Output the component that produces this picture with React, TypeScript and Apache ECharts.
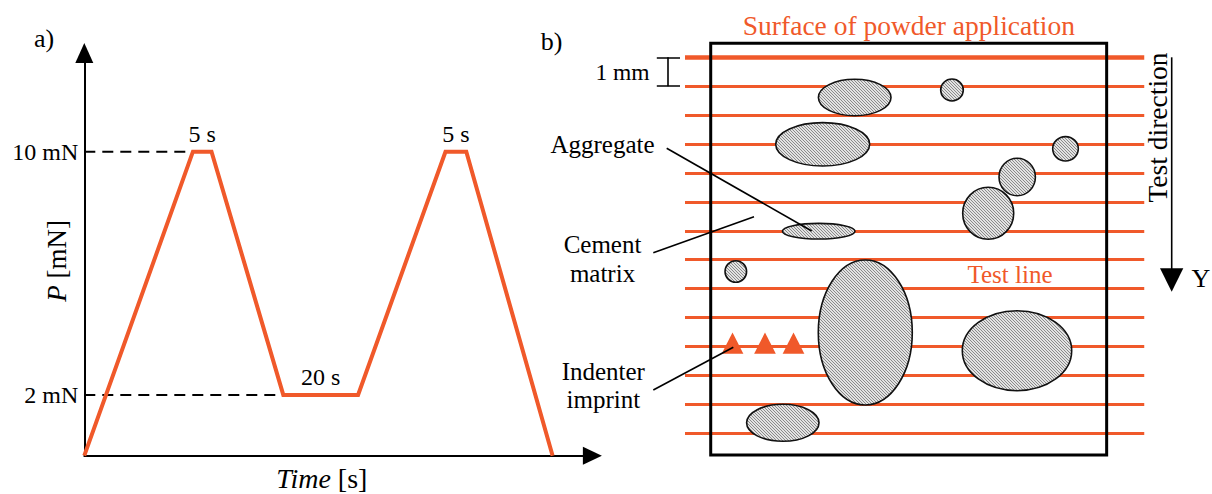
import React, { useEffect, useRef } from 'react';
import * as echarts from 'echarts';

const ORANGE = '#F0592A';
const FONT = '"Liberation Serif", "Times New Roman", serif';

// ---------- a) loading cycle ----------
const TIME_S = [0, 29.2, 34.2, 53.5, 73.6, 97.1, 102.7, 125.9];
const LOAD_MN = [0, 10, 10, 2, 2, 10, 10, 0];
const Y_TICKS = [2, 10];
const GUIDE_LEVELS = [10, 2];
const GUIDE_END_T = [29.2, 53.5];
const HOLD_T = [31.7, 63.55, 99.9];
const HOLD_P = [10, 2, 10];
const HOLD_LABELS = ['5 s', '20 s', '5 s'];

// ---------- b) specimen (units: mm) ----------
const TEST_LINE_Y = [0, 1, 2, 3, 4, 5, 6, 7, 8, 9, 10, 11, 12, 13];
const TEST_LINE_X = [0, 15.88];
const SPECIMEN = [0.889, -0.484, 14.58, 13.75];
// [cx, cy, rx, ry]
const AGGREGATES = [
  [5.868, 1.39, 1.255, 0.629],
  [4.761, 3.008, 1.625, 0.75],
  [4.623, 6.013, 1.255, 0.27],
  [9.232, 1.131, 0.391, 0.38],
  [13.157, 3.164, 0.443, 0.422],
  [11.487, 4.139, 0.629, 0.647],
  [10.484, 5.394, 0.882, 0.899],
  [1.757, 7.407, 0.373, 0.373],
  [6.234, 9.516, 1.625, 2.507],
  [11.48, 10.145, 1.891, 1.383],
  [3.382, 12.638, 1.252, 0.64],
];
const IMPRINT_X = [1.643, 2.766, 3.752];
const IMPRINT_LINE = 10;
const LEADERS = [
  [[-0.633, 3.147], [4.381, 6.005]],
  [[-1.096, 6.757], [2.386, 5.512]],
  [[-1.096, 11.504], [1.67, 10.028]],
];
const SCALE_BAR = [
  [[-0.605, 0], [-0.605, 1]],
  [[-0.975, 0], [-0.173, 0]],
  [[-0.975, 1], [-0.173, 1]],
];

function txt(text: string, x: number, y: number, size: number, align: string, color = '#000', rotation = 0) {
  return {
    type: 'text',
    x,
    y,
    rotation,
    style: {
      text,
      fontSize: size,
      fontFamily: FONT,
      fill: color,
      align,
      verticalAlign: 'middle',
    },
  };
}

export default function App() {
  const ref = useRef<HTMLDivElement>(null);

  useEffect(() => {
    if (!ref.current) return;
    const chart = echarts.init(ref.current, undefined, { renderer: 'svg' });

    const cv = document.createElement('canvas');
    cv.width = 3;
    cv.height = 3;
    const ctx = cv.getContext('2d');
    if (ctx) {
      ctx.fillStyle = '#e2e2e2';
      ctx.fillRect(0, 0, 3, 3);
      ctx.fillStyle = '#8a8a8a';
      for (let i = 0; i < 3; i++) ctx.fillRect(i, i, 1, 1);
    }
    const hatch: any = { image: cv, repeat: 'repeat' };

    const option: any = {
      animation: false,
      textStyle: { fontFamily: FONT },
      grid: [
        { left: 84.3, top: 52.9, width: 508.1, height: 402.8, outerBoundsMode: 'none', containLabel: false },
        { left: 627.16, top: 28.38, width: 578.4, height: 433.8, outerBoundsMode: 'none', containLabel: false },
      ],
      xAxis: [
        {
          type: 'value',
          gridIndex: 0,
          min: 0,
          max: 136.6,
          name: '{i|Time} [s]',
          nameLocation: 'middle',
          nameGap: 9,
          nameMoveOverlap: false,
          nameTextStyle: {
            fontFamily: FONT,
            fontSize: 28,
            color: '#000',
            padding: [0, 33, 0, 0],
            rich: { i: { fontFamily: FONT, fontSize: 28, fontStyle: 'italic', color: '#000' } },
          },
          axisLine: {
            show: true,
            symbol: ['none', 'triangle'],
            symbolSize: [18, 19],
            lineStyle: { color: '#000', width: 2 },
          },
          axisTick: { show: false },
          axisLabel: { show: false },
          splitLine: { show: false },
        },
        { type: 'value', gridIndex: 1, min: -2, max: 18, show: false, splitLine: { show: false } },
      ],
      yAxis: [
        {
          type: 'value',
          gridIndex: 0,
          min: 0,
          max: 13.25,
          interval: 2,
          name: '{i|P} [mN]',
          nameLocation: 'middle',
          nameRotate: 90,
          nameGap: 13.5,
          nameMoveOverlap: false,
          nameTextStyle: {
            fontFamily: FONT,
            fontSize: 27,
            color: '#000',
            padding: [0, 13, 0, 0],
            rich: { i: { fontFamily: FONT, fontSize: 27, fontStyle: 'italic', color: '#000' } },
          },
          axisLine: {
            show: true,
            symbol: ['none', 'triangle'],
            symbolSize: [18, 20],
            lineStyle: { color: '#000', width: 2 },
          },
          axisTick: { show: false },
          axisLabel: {
            show: true,
            margin: 6,
            fontFamily: FONT,
            fontSize: 24,
            color: '#000',
            showMaxLabel: false,
            formatter: (v: number) => (Y_TICKS.includes(v) ? `${v} mN` : ''),
          },
          splitLine: { show: false },
        },
        { type: 'value', gridIndex: 1, min: -1, max: 14, inverse: true, show: false, splitLine: { show: false } },
      ],
      series: [
        // ---- a) ----
        ...GUIDE_LEVELS.map((p, i) => ({
          type: 'line',
          xAxisIndex: 0,
          yAxisIndex: 0,
          symbol: 'none',
          z: 2,
          data: [
            [0, p],
            [GUIDE_END_T[i], p],
          ],
          lineStyle: { color: '#000', width: 2, type: [11, 7] },
        })),
        {
          type: 'line',
          name: 'P',
          xAxisIndex: 0,
          yAxisIndex: 0,
          symbol: 'none',
          z: 3,
          data: TIME_S.map((t, i) => [t, LOAD_MN[i]]),
          lineStyle: { color: ORANGE, width: 4, join: 'miter' },
        },
        {
          type: 'custom',
          xAxisIndex: 0,
          yAxisIndex: 0,
          z: 4,
          data: HOLD_T.map((t, i) => [t, HOLD_P[i]]),
          renderItem: (p: any, api: any) => {
            const c = api.coord([api.value(0), api.value(1)]);
            return {
              type: 'text',
              x: c[0],
              y: c[1] - 18,
              style: {
                text: HOLD_LABELS[p.dataIndex],
                fontFamily: FONT,
                fontSize: 24,
                fill: '#000',
                align: 'center',
                verticalAlign: 'middle',
              },
            };
          },
        },
        // ---- b) ----
        {
          type: 'lines',
          coordinateSystem: 'cartesian2d',
          xAxisIndex: 1,
          yAxisIndex: 1,
          z: 2,
          lineStyle: { color: ORANGE, width: 3, opacity: 1 },
          data: TEST_LINE_Y.map((y, i) => ({
            coords: [
              [TEST_LINE_X[0], y],
              [TEST_LINE_X[1], y],
            ],
            lineStyle: { width: i === 0 ? 4.5 : 3, color: ORANGE },
          })),
        },
        {
          type: 'custom',
          xAxisIndex: 1,
          yAxisIndex: 1,
          z: 3,
          data: [SPECIMEN],
          renderItem: (_p: any, api: any) => {
            const a = api.coord([api.value(0), api.value(1)]);
            const b = api.coord([api.value(2), api.value(3)]);
            return {
              type: 'rect',
              shape: {
                x: Math.min(a[0], b[0]),
                y: Math.min(a[1], b[1]),
                width: Math.abs(b[0] - a[0]),
                height: Math.abs(b[1] - a[1]),
              },
              style: { fill: 'none', stroke: '#000', lineWidth: 3 },
            };
          },
        },
        {
          type: 'custom',
          xAxisIndex: 1,
          yAxisIndex: 1,
          z: 4,
          data: AGGREGATES,
          renderItem: (_p: any, api: any) => {
            const cx = api.value(0);
            const cy = api.value(1);
            const c = api.coord([cx, cy]);
            const e = api.coord([cx + api.value(2), cy + api.value(3)]);
            return {
              type: 'ellipse',
              shape: { cx: c[0], cy: c[1], rx: Math.abs(e[0] - c[0]), ry: Math.abs(e[1] - c[1]) },
              style: { fill: hatch, stroke: '#111', lineWidth: 1.6 },
            };
          },
        },
        {
          type: 'scatter',
          xAxisIndex: 1,
          yAxisIndex: 1,
          z: 5,
          symbol: 'triangle',
          symbolSize: [21.7, 21.3],
          symbolOffset: [0, -3.4],
          itemStyle: { color: ORANGE, opacity: 1 },
          data: IMPRINT_X.map((x) => [x, IMPRINT_LINE]),
        },
        {
          type: 'lines',
          coordinateSystem: 'cartesian2d',
          xAxisIndex: 1,
          yAxisIndex: 1,
          z: 6,
          lineStyle: { color: '#000', width: 1.6, opacity: 1 },
          data: [...LEADERS, ...SCALE_BAR].map((c) => ({ coords: c })),
        },
      ],
      graphic: [
        txt('a)', 34, 38.4, 26, 'left'),
        txt('b)', 540.7, 41, 26, 'left'),
        txt('Surface of powder application', 908.9, 25.2, 27.5, 'center', ORANGE),
        txt('1 mm', 649.6, 72.2, 23.5, 'right'),
        txt('Aggregate', 602.5, 144, 25, 'center'),
        txt('Cement', 602.5, 244.4, 25, 'center'),
        txt('matrix', 602.5, 273.4, 25, 'center'),
        txt('Indenter', 603.3, 371, 25, 'center'),
        txt('imprint', 603.3, 399, 25, 'center'),
        txt('Test line', 1010, 274, 25, 'center', ORANGE),
        txt('Test direction', 1157.5, 127.5, 27.5, 'center', '#000', Math.PI / 2),
        txt('Y', 1201, 278, 26, 'center'),
        {
          type: 'line',
          shape: { x1: 1171.7, y1: 57.3, x2: 1171.7, y2: 272 },
          style: { stroke: '#000', lineWidth: 1.6 },
        },
        {
          type: 'polygon',
          shape: {
            points: [
              [1160, 268.3],
              [1183.3, 268.3],
              [1171.7, 291.7],
            ],
          },
          style: { fill: '#000' },
        },
      ],
    };

    chart.setOption(option);
    return () => chart.dispose();
  }, []);

  return <div ref={ref} style={{ position: 'absolute', left: 0, top: 0, width: 1212, height: 494 }} />;
}
